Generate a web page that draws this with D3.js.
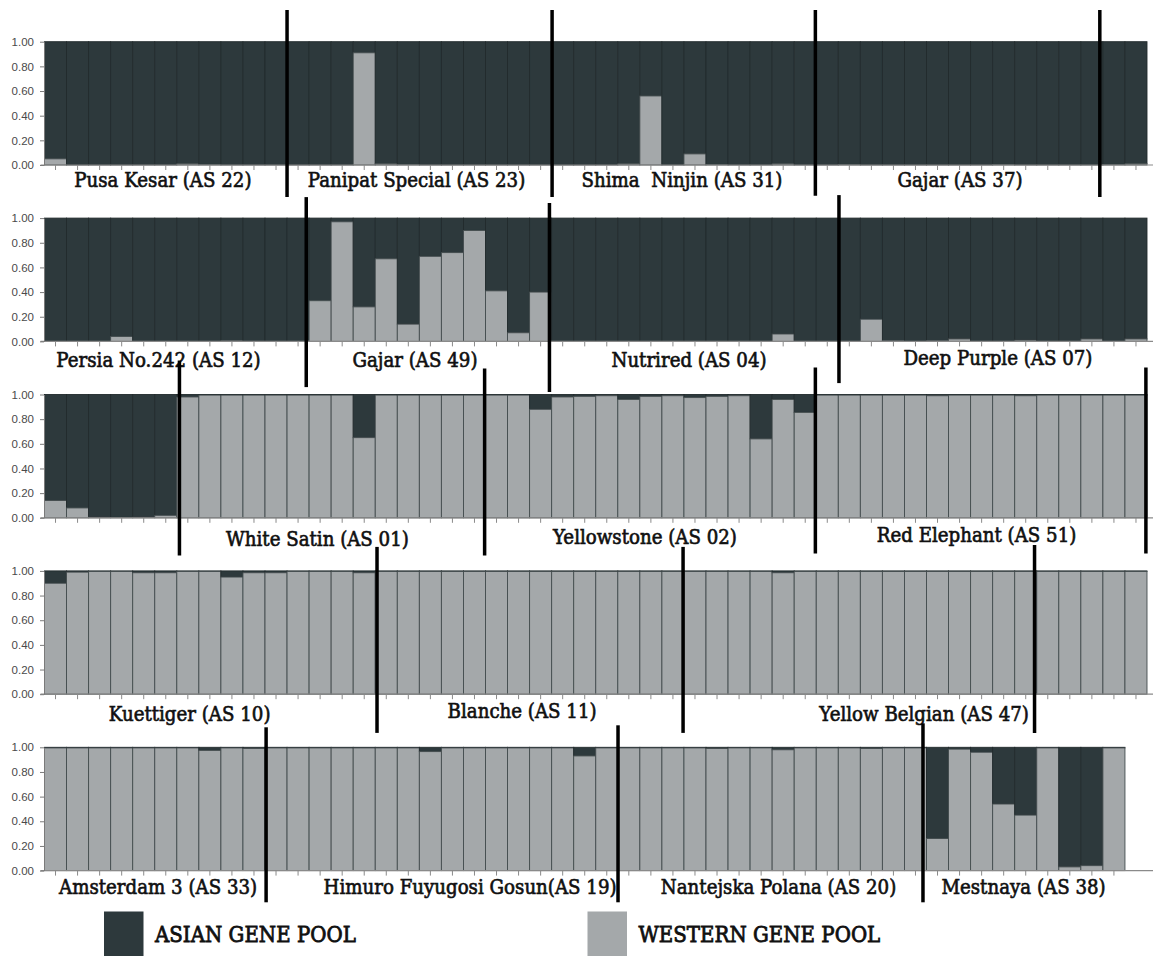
<!DOCTYPE html>
<html>
<head>
<meta charset="utf-8">
<script src="https://cdn.jsdelivr.net/npm/d3@7"></script>
<style>
  html, body { margin: 0; padding: 0; background: #ffffff; }
  svg { display: block; }
  .group-label { font-family: "DejaVu Serif", serif; font-size: 18.2px; fill: #101010; stroke: #101010; stroke-width: 0.6px; white-space: pre; }
  .legend-label { font-family: "DejaVu Serif", serif; font-size: 19.8px; fill: #101010; stroke: #101010; stroke-width: 0.75px; }
  .y-axis text { font-family: "Liberation Sans", Arial, sans-serif; font-size: 11.5px; fill: #4a4a4a; }
  .y-axis line, .y-axis path { stroke: #7a7a7a; }
  .x-axis line { stroke: #8a8a8a; }
</style>
</head>
<body>
<svg id="chart" width="1153" height="956"></svg>
<script>
// Western gene pool membership (Q) for each accession, one array per panel.
// The Asian share of every bar is 1 - Q.
const row1Western = [
  0.05, 0, 0, 0, 0, 0, 0.01, 0.005, 0, 0,
  0, 0, 0, 0, 0.91, 0.01, 0.005, 0, 0, 0,
  0, 0, 0, 0, 0, 0, 0.01, 0.56, 0, 0.09,
  0.005, 0, 0, 0.01, 0, 0, 0.005, 0, 0, 0,
  0, 0, 0, 0.005, 0, 0, 0, 0, 0.005, 0.01
];
const row2Western = [
  0, 0, 0, 0.04, 0, 0, 0, 0, 0.005, 0,
  0, 0, 0.33, 0.97, 0.28, 0.67, 0.14, 0.69, 0.72, 0.90,
  0.41, 0.07, 0.40, 0, 0, 0, 0, 0, 0, 0,
  0, 0, 0, 0.06, 0, 0, 0, 0.18, 0.005, 0,
  0.005, 0.02, 0, 0, 0.01, 0, 0, 0.02, 0, 0.02
];
const row3Western = [
  0.14, 0.08, 0.005, 0.003, 0.005, 0.02, 0.98, 0.995, 0.995, 0.995,
  0.995, 0.995, 0.995, 0.995, 0.65, 0.995, 0.995, 0.995, 0.995, 0.995,
  0.995, 0.995, 0.88, 0.98, 0.985, 0.99, 0.96, 0.985, 0.99, 0.975,
  0.985, 0.99, 0.64, 0.96, 0.855, 0.995, 0.995, 0.995, 0.995, 0.995,
  0.99, 0.995, 0.995, 0.995, 0.99, 0.995, 0.995, 0.995, 0.995, 0.995
];
const row4Western = [
  0.90, 0.99, 0.995, 0.995, 0.985, 0.985, 0.995, 0.995, 0.95, 0.985,
  0.985, 0.995, 0.995, 0.995, 0.985, 0.995, 0.995, 0.995, 0.995, 0.995,
  0.995, 0.995, 0.995, 0.995, 0.995, 0.995, 0.995, 0.995, 0.995, 0.995,
  0.995, 0.995, 0.995, 0.985, 0.995, 0.995, 0.995, 0.995, 0.995, 0.995,
  0.995, 0.995, 0.995, 0.995, 0.995, 0.995, 0.995, 0.995, 0.995, 0.995
];
const row5Western = [
  0.995, 0.995, 0.995, 0.995, 0.995, 0.995, 0.995, 0.975, 0.995, 0.99,
  0.995, 0.995, 0.995, 0.995, 0.995, 0.995, 0.995, 0.965, 0.995, 0.995,
  0.995, 0.995, 0.995, 0.995, 0.93, 0.995, 0.995, 0.995, 0.995, 0.995,
  0.99, 0.995, 0.995, 0.98, 0.995, 0.995, 0.995, 0.99, 0.995, 0.995,
  0.26, 0.985, 0.96, 0.54, 0.45, 0.995, 0.03, 0.04, 0.995
];

// Cultivar names printed under each panel
const row1Groups = ["Pusa Kesar (AS 22)", "Panipat Special (AS 23)", "Shima  Ninjin (AS 31)", "Gajar (AS 37)"];
const row2Groups = ["Persia No.242 (AS 12)", "Gajar (AS 49)", "Nutrired (AS 04)", "Deep Purple (AS 07)"];
const row3Groups = ["White Satin (AS 01)", "Yellowstone (AS 02)", "Red Elephant (AS 51)"];
const row4Groups = ["Kuettiger (AS 10)", "Blanche (AS 11)", "Yellow Belgian (AS 47)"];
const row5Groups = ["Amsterdam 3 (AS 33)", "Himuro Fuyugosi Gosun(AS 19)", "Nantejska Polana (AS 20)", "Mestnaya (AS 38)"];

const yTicks = [0, 0.2, 0.4, 0.6, 0.8, 1.0];
const legendNames = ["ASIAN GENE POOL", "WESTERN GENE POOL"];

// ---- layout ----
const ASIAN = "#2d393c";
const WESTERN = "#a4a8aa";
const SLOTS = 50;
const X0 = 44.5, X1 = 1147;
const ROW0 = 41.7, ROW_STEP = 176.4, PLOT_H = 123.3;
const TEXT_STRETCH = 1.08;

// label centres (in sample slots) and baseline offsets below each panel
const labelLayout = [
  { at: [5.37, 16.87, 28.91, 41.52], dy: [22, 22, 22, 22] },
  { at: [5.17, 16.8, 29.23, 43.24], dy: [26, 26, 26, 23.5] },
  { at: [12.38, 27.23, 42.27], dy: [28, 26, 24] },
  { at: [6.58, 21.66, 39.89], dy: [27, 24, 27] },
  { at: [5.15, 19.3, 33.29, 44.4], dy: [23, 23, 23, 23] }
];
// hand-drawn divider strokes: slot position, vertical extent relative to panel top
const dividerLayout = [
  [[11.0, -31.7, 155.3], [23.02, -31.7, 155.3], [34.96, -31.7, 154], [47.86, -31.7, 155.3]],
  [[11.87, -21, 169], [22.9, -15, 174], [36.03, -23, 165]],
  [[6.12, -34, 161], [19.96, -26, 161], [34.96, -27, 159], [49.95, -27, 159]],
  [[15.08, -24, 162], [28.96, -24, 162], [44.9, -26, 162]],
  [[10.05, -20, 155], [26.01, -22, 155], [39.84, -24, 155]]
];

const panels = [
  { western: row1Western, groups: row1Groups },
  { western: row2Western, groups: row2Groups },
  { western: row3Western, groups: row3Groups },
  { western: row4Western, groups: row4Groups },
  { western: row5Western, groups: row5Groups }
];

const svg = d3.select("#chart");
const slot = d3.scaleLinear().domain([0, SLOTS]).range([X0, X1]);
const band = d3.scaleBand().domain(d3.range(SLOTS)).range([X0, X1]).padding(0);

const dividerLayer = [];

panels.forEach((panel, r) => {
  const top = ROW0 + r * ROW_STEP;
  const bottom = top + PLOT_H;
  const y = d3.scaleLinear().domain([0, 1]).range([bottom, top]);
  const g = svg.append("g").attr("class", "panel");

  // stacked membership bars
  const bars = g.append("g").selectAll("g")
    .data(panel.western.map((w, i) => ({ i, w })))
    .join("g");

  bars.append("rect")
    .attr("x", d => band(d.i))
    .attr("width", band.bandwidth())
    .attr("y", y(1))
    .attr("height", d => y(d.w) - y(1))
    .attr("fill", ASIAN)
    .attr("stroke", "#222b2d")
    .attr("stroke-width", 0.9);

  bars.filter(d => d.w > 0).append("rect")
    .attr("x", d => band(d.i))
    .attr("width", band.bandwidth())
    .attr("y", d => y(d.w))
    .attr("height", d => y(0) - y(d.w))
    .attr("fill", WESTERN)
    .attr("stroke", "#434c4e")
    .attr("stroke-width", 0.9);

  // baseline running across the whole panel width
  g.append("line")
    .attr("x1", X0 - 4).attr("x2", 1153)
    .attr("y1", bottom).attr("y2", bottom)
    .attr("stroke", "#8a8a8a").attr("stroke-width", 1.2);

  // one tick per accession
  const xAxis = d3.axisBottom(band)
    .tickValues(d3.range(panel.western.length))
    .tickFormat("")
    .tickSize(5)
    .tickSizeOuter(0);
  g.append("g")
    .attr("class", "x-axis")
    .attr("transform", `translate(0,${bottom})`)
    .call(xAxis)
    .call(a => a.select(".domain").remove());

  // membership axis
  const yAxis = d3.axisLeft(y)
    .tickValues(yTicks)
    .tickFormat(d3.format(".2f"))
    .tickSize(4)
    .tickSizeOuter(0)
    .tickPadding(6);
  g.append("g")
    .attr("class", "y-axis")
    .attr("transform", `translate(${X0 - 0.5},0)`)
    .call(yAxis)
    .call(a => a.selectAll("text").attr("font-family", null).attr("font-size", null));

  // cultivar names
  const lay = labelLayout[r];
  g.append("g").selectAll("text")
    .data(panel.groups)
    .join("text")
    .attr("class", "group-label")
    .attr("transform", (d, k) => `translate(${slot(lay.at[k])},${bottom + lay.dy[k]}) scale(1,${TEXT_STRETCH})`)
    .attr("text-anchor", "middle")
    .text(d => d);

  dividerLayout[r].forEach(([at, a, b]) => dividerLayer.push({ x: slot(at), y1: top + a, y2: top + b }));
});

// black divider strokes between cultivars
svg.append("g").selectAll("line")
  .data(dividerLayer)
  .join("line")
  .attr("x1", d => d.x).attr("x2", d => d.x)
  .attr("y1", d => d.y1).attr("y2", d => d.y2)
  .attr("stroke", "#000")
  .attr("stroke-width", 3.5);

// legend
const legend = svg.append("g");
const legendItems = [
  { name: legendNames[0], color: ASIAN, x: 104 },
  { name: legendNames[1], color: WESTERN, x: 587.5 }
];
legendItems.forEach(item => {
  legend.append("rect")
    .attr("x", item.x).attr("y", 911.5)
    .attr("width", 39.5).attr("height", 50)
    .attr("fill", item.color);
  legend.append("text")
    .attr("class", "legend-label")
    .attr("transform", `translate(${item.x + 51},942) scale(1,${TEXT_STRETCH + 0.04})`)
    .text(item.name);
});
</script>
</body>
</html>
